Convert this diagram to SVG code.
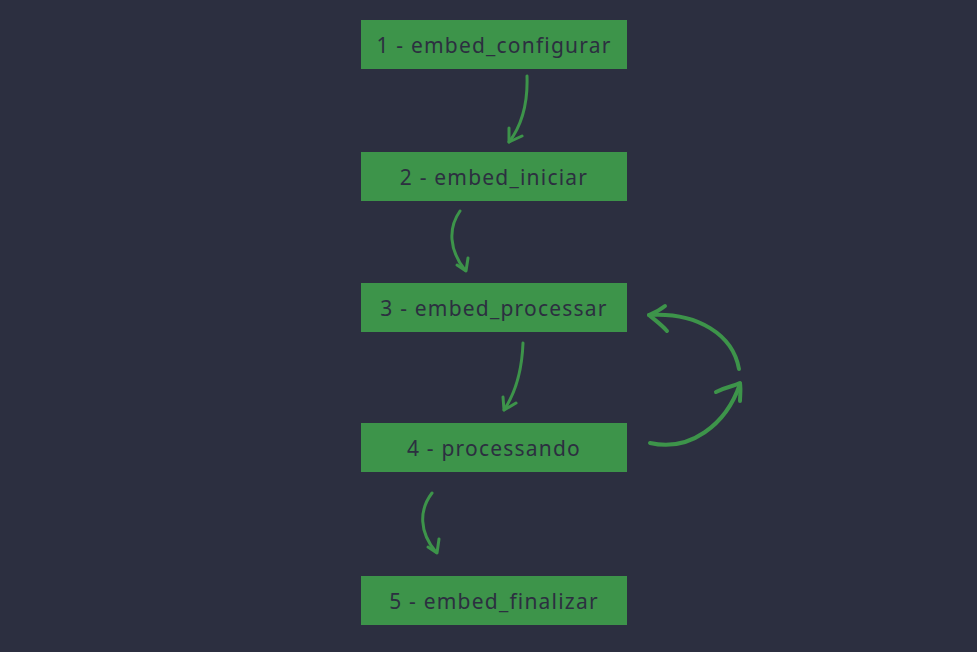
<svg xmlns="http://www.w3.org/2000/svg" width="977" height="652" viewBox="0 0 977 652">
<style>
.box{fill:#3d944a}
.lbl{font-family:"Noto Sans","Open Sans",sans-serif;font-size:21px;letter-spacing:1.2px;fill:#2c2f40;text-anchor:middle;dominant-baseline:central}
.c{fill:none;stroke:#3d944a;stroke-width:3;stroke-linecap:round;stroke-linejoin:round}
.t{stroke-width:4}
</style>
<rect width="977" height="652" fill="#2c2f40"/>
<g id="n1"><rect class="box" x="361" y="20" width="266" height="49"/><text class="lbl" x="494" y="45">1 - embed_configurar</text></g>
<g id="n2"><rect class="box" x="361" y="152" width="266" height="49"/><text class="lbl" x="494" y="177">2 - embed_iniciar</text></g>
<g id="n3"><rect class="box" x="361" y="283" width="266" height="49"/><text class="lbl" x="494" y="308">3 - embed_processar</text></g>
<g id="n4"><rect class="box" x="361" y="423" width="266" height="49"/><text class="lbl" x="494" y="448">4 - processando</text></g>
<g id="n5"><rect class="box" x="361" y="576" width="266" height="49"/><text class="lbl" x="494" y="601">5 - embed_finalizar</text></g>
<g id="connectors">
<path class="c" d="M527,76 C528,105 522,125 509,142"/>
<path class="c" d="M509,128 L509,142 L522,136"/>
<path class="c" d="M460,211 C448,228 449,250 465,270"/>
<path class="c" d="M457,265 L466,271 L468,258"/>
<path class="c" d="M523,343 C522,370 516,392 504,410"/>
<path class="c" d="M503,397 L504,410 L516,403"/>
<path class="c t" d="M650,443 C690,452 726,425 740,384"/>
<path class="c t" d="M716,392 C728,386 735,386 740,383 C741,390 740,396 740,401"/>
<path class="c t" d="M739,369 C733,335 698,312 649,315"/>
<path class="c t" d="M665,306 C660,310 654,313 649,315 C655,320 663,326 667,331"/>
<path class="c" d="M432,493 C419,510 419,532 436,552"/>
<path class="c" d="M428,547 L437,553 L439,539"/>
</g>
</svg>
